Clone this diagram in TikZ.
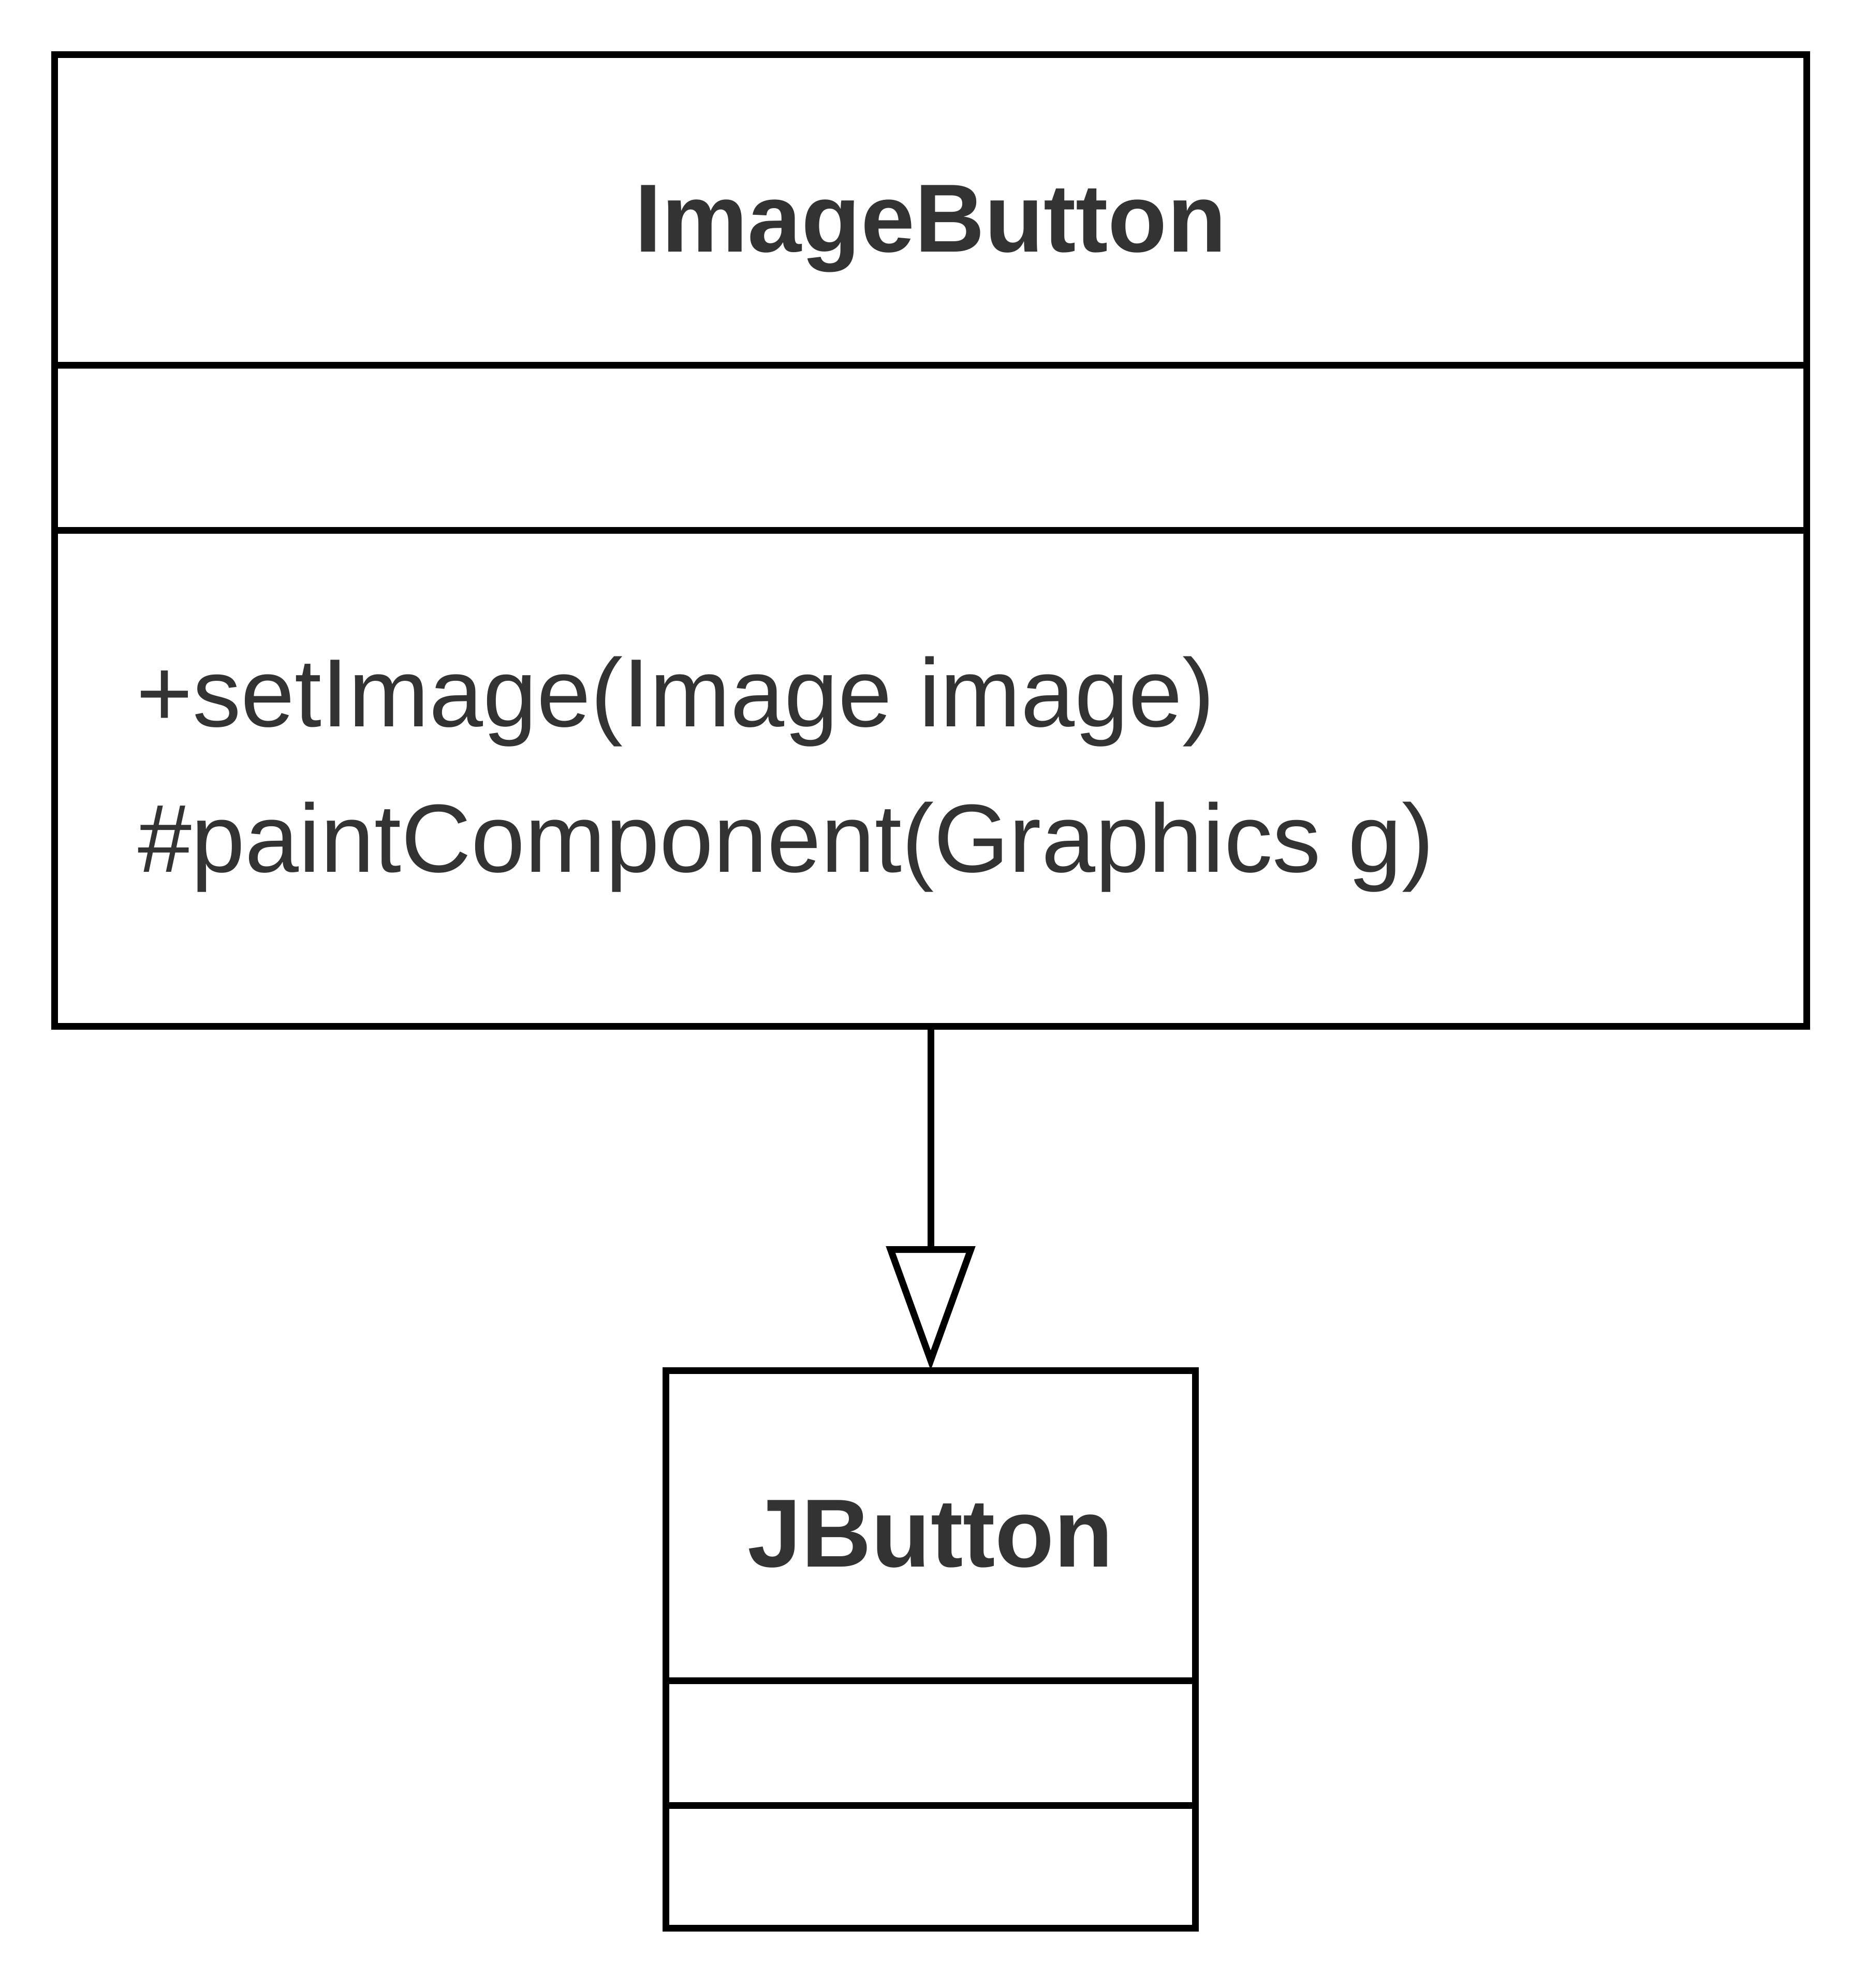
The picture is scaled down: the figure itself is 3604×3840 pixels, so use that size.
\documentclass[tikz,border=0pt]{standalone}
\usepackage{fontspec}
\setmainfont{Liberation Sans}
\usetikzlibrary{arrows.meta}
\definecolor{txt}{HTML}{333333}
\begin{document}
\begin{tikzpicture}[x=0.2pt,y=-0.2pt,
  umlbox/.style={draw=black, line width=2.6pt, inner sep=0pt, outer sep=0pt, fill=none},
  sepline/.style={draw=black, line width=2.6pt},
  classname/.style={anchor=base, inner sep=0pt, text=txt, font=\fontsize{37.4pt}{45pt}\selectfont\bfseries},
  member/.style={anchor=base west, inner sep=0pt, text=txt, font=\fontsize{37.4pt}{45pt}\selectfont},
  inherit/.style={draw=black, line width=2.6pt, -{Triangle[open, length=48pt, width=34pt]}}
]
\useasboundingbox (0,0) rectangle (3604,3840);
% ImageButton class
\node[umlbox, minimum width=676.8pt, minimum height=375.2pt] (ib) at (1798,1044) {};
\draw[sepline] (ib.west |- 0,705) -- (ib.east |- 0,705);
\draw[sepline] (ib.west |- 0,1024) -- (ib.east |- 0,1024);
\node[classname] (ibname) at (1798,486) {ImageButton};
\node[member] (m1) at (262,1403) {+setImage(Image image)};
\node[member] (m2) at (265,1684) {\#paintComponent(Graphics g)};
% JButton class
\node[umlbox, minimum width=204.6pt, minimum height=215.4pt] (jb) at (1798,3185.5) {};
\draw[sepline] (jb.west |- 0,3246) -- (jb.east |- 0,3246);
\draw[sepline] (jb.west |- 0,3487) -- (jb.east |- 0,3487);
\node[classname] (jbname) at (1798,3026) {JButton};
% generalization
\draw[inherit] (ib.south) -- (jb.north);
\end{tikzpicture}
\end{document}
